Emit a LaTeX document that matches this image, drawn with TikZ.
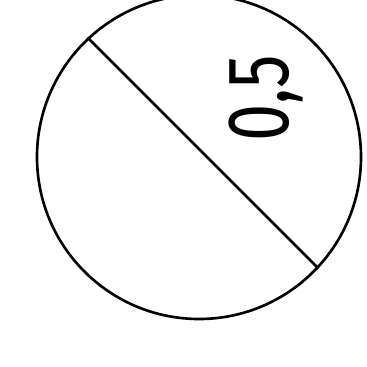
\documentclass[tikz,border=0pt]{standalone}
\usepackage{fontspec}
\newfontfamily\valfont{Fira Sans}
\usetikzlibrary{positioning}

\begin{document}
\begin{tikzpicture}[every node/.style={inner sep=0pt}, disc/.style={circle, draw, line width=0.75pt, minimum size=3.24cm}, cut/.style={line width=0.75pt}]
        % Fix the frame of the picture
        \useasboundingbox (0,0) rectangle (3.66,-3.67);
        \clip (0,0) rectangle (3.66,-3.67);

        % Draw the disc
        \node[disc] (disc) at (1.99,-1.57) {};

        % Draw the cut across the disc
        \draw[cut] (disc.133) -- (disc.-43);

        % Value written in the upper part
        \node[rotate=90, font=\valfont\fontsize{25}{25}\selectfont] (val) at (2.66,-0.98) {\scalebox{0.76}[1]{0,5}};
      \end{tikzpicture}
\end{document}
